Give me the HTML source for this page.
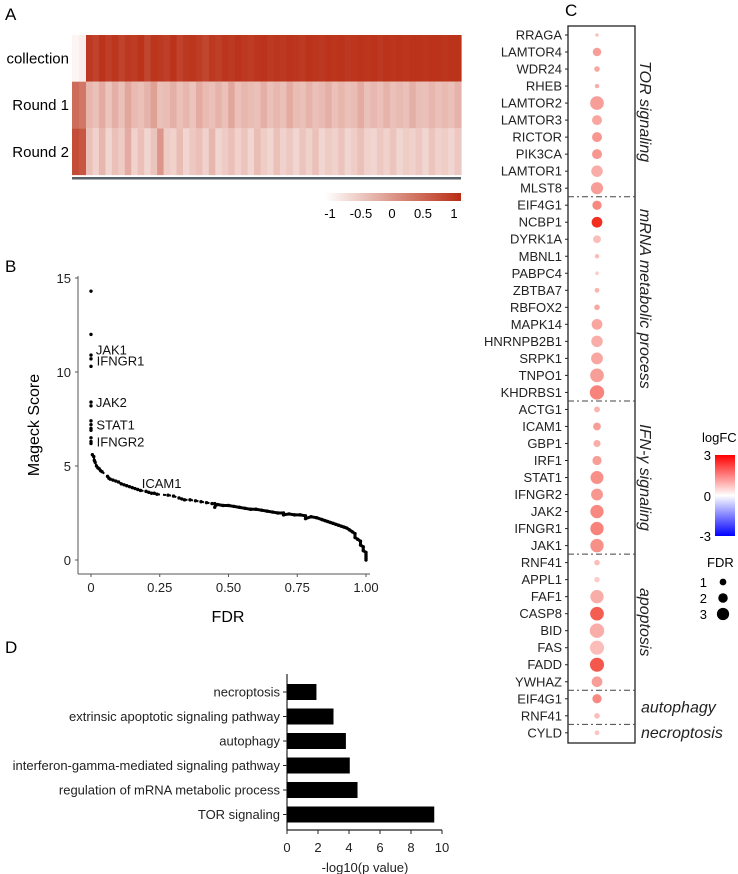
<!DOCTYPE html>
<html><head><meta charset="utf-8"><style>
html,body{margin:0;padding:0;background:#fff}
svg{display:block;font-family:"Liberation Sans",Arial,sans-serif}
</style></head><body>
<svg id="fig" width="738" height="874" viewBox="0 0 738 874" xmlns="http://www.w3.org/2000/svg">
<defs>
<linearGradient id="hmgrad" x1="0" x2="1" y1="0" y2="0"><stop offset="0" stop-color="#ffffff"/><stop offset="1" stop-color="#b92d14"/></linearGradient>
<linearGradient id="fcgrad" x1="0" x2="0" y1="0" y2="1"><stop offset="0" stop-color="#ff0000"/><stop offset="0.5" stop-color="#ffffff"/><stop offset="1" stop-color="#0000ff"/></linearGradient>
</defs>
<text x="5" y="20" font-size="17">A</text>
<text x="5" y="272" font-size="17">B</text>
<text x="565" y="16" font-size="17">C</text>
<text x="5" y="653" font-size="17">D</text>
<g id="pa"></g>
<g id="pb"></g>
<g id="pc"></g>
<g id="pd"></g>
</svg>
<script>
const NS="http://www.w3.org/2000/svg";
function mk(p,t,a,txt){const e=document.createElementNS(NS,t);for(const k in a)e.setAttribute(k,a[k]);if(txt!==undefined)e.textContent=txt;p.appendChild(e);return e;}

// ===== Panel A data =====
const hmRows=["collection","Round 1","Round 2"];
const hmCollection=[0.05,0.08,0.95,0.9,0.97,0.92,0.96,0.9,0.95,0.93,0.97,0.88,0.96,0.94,0.92,0.97,0.9,0.95,0.96,0.93,0.88,0.95,0.92,0.96,0.94,0.97,0.95,0.93,0.96,0.97,0.94,0.96,0.95,0.97,0.96,0.94,0.97,0.96,0.95,0.97,0.96,0.97,0.95,0.96,0.97,0.96,0.97,0.95,0.97,0.96,0.97,0.96,0.97,0.97,0.96,0.97,0.97,0.96,0.97,0.97];
const hmRound1=[0.7,0.65,0.35,0.3,0.4,0.28,0.38,0.3,0.42,0.33,0.3,0.36,0.45,0.3,0.32,0.38,0.3,0.35,0.28,0.4,0.33,0.3,0.36,0.3,0.42,0.3,0.35,0.32,0.3,0.38,0.3,0.34,0.3,0.4,0.32,0.3,0.36,0.3,0.33,0.38,0.3,0.35,0.3,0.32,0.4,0.3,0.34,0.3,0.36,0.3,0.33,0.3,0.38,0.31,0.3,0.35,0.3,0.33,0.3,0.36];
const hmRound2=[0.85,0.8,0.3,0.22,0.35,0.2,0.3,0.25,0.4,0.22,0.3,0.2,0.28,0.5,0.25,0.22,0.32,0.2,0.26,0.3,0.22,0.35,0.2,0.25,0.3,0.22,0.28,0.2,0.32,0.24,0.2,0.3,0.22,0.26,0.2,0.28,0.22,0.3,0.2,0.25,0.22,0.28,0.2,0.24,0.3,0.22,0.2,0.26,0.22,0.28,0.2,0.24,0.22,0.26,0.2,0.28,0.22,0.24,0.2,0.26];
const hmTicks=["-1","-0.5","0","0.5","1"];

(function(){
 const g=document.getElementById('pa');
 const x0=72,x1=461,y0=35,rh=46.7;
 const data=[hmCollection,hmRound1,hmRound2];
 function col(v){const r=Math.round(255+(185-255)*v),gg=Math.round(255+(45-255)*v),b=Math.round(255+(20-255)*v);return `rgb(${r},${gg},${b})`;}
 const firstW=14;
 data.forEach((row,ri)=>{
  const n=row.length;
  const restW=(x1-x0-firstW)/(n-2);
  row.forEach((v,ci)=>{
   const x=ci<2?x0+ci*firstW/2:x0+firstW+(ci-2)*restW;
   const w=ci<2?firstW/2:restW;
   const r=mk(g,'rect',{x:x,y:y0+ri*rh,width:w+0.6,height:rh,fill:col(v)});
   
   
  });
  const t=mk(g,'text',{x:69,y:y0+ri*rh+rh/2+5,'font-size':15,'text-anchor':'end'},hmRows[ri]);
  
  
 });
 const d=mk(g,'rect',{x:x0,y:177,width:x1-x0,height:2.5,fill:'#55606a'});
 
 
 const cb=mk(g,'rect',{x:325,y:193,width:136,height:8,fill:'url(#hmgrad)'});
 
 
 hmTicks.forEach((s,i)=>{
  const t=mk(g,'text',{x:330+i*31,y:218,'font-size':13,'text-anchor':'middle'},s);
  
  
 });
})();

// ===== Panel B data =====
const fdrVals=[0,0,0,0,0,0,0,0,0,0,0,0,0,0,0.005,0.01,0.012,0.015,0.02,0.025,0.03,0.035,0.04,0.06,0.065,0.07,0.08,0.09,0.1,0.11,0.12,0.13,0.14,0.15,0.16,0.17,0.18,0.2,0.21,0.22,0.23,0.24,0.28,0.3,0.32,0.33,0.34,0.36,0.38,0.4,0.42,0.44,0.45,0.45,0.46,0.48,0.5,0.52,0.54,0.56,0.58,0.6,0.62,0.64,0.66,0.68,0.7,0.7,0.72,0.74,0.76,0.78,0.78,0.8,0.82,0.84,0.85,0.86,0.87,0.88,0.89,0.9,0.91,0.92,0.93,0.94,0.95,0.96,0.96,0.97,0.98,0.98,0.99,0.99,1.0,1.0,1.0,1.0,1.0];
const scoreVals=[14.3,12.0,10.9,10.7,10.3,8.4,8.2,7.4,7.2,7.0,6.9,6.5,6.3,6.2,5.6,5.5,5.3,5.2,5.0,4.9,4.85,4.75,4.7,4.45,4.35,4.3,4.25,4.2,4.15,4.05,4.0,3.95,3.9,3.85,3.8,3.75,3.7,3.65,3.6,3.55,3.55,3.5,3.45,3.4,3.3,3.25,3.2,3.2,3.15,3.1,3.05,3.0,3.0,2.8,2.95,2.9,2.9,2.85,2.8,2.75,2.7,2.7,2.65,2.6,2.55,2.5,2.5,2.4,2.45,2.4,2.4,2.35,2.2,2.3,2.25,2.15,2.1,2.05,2.0,1.95,1.9,1.85,1.8,1.75,1.7,1.6,1.5,1.4,1.2,1.1,1.0,0.8,0.7,0.5,0.4,0.3,0.2,0.1,0.0];
const bYTicks=[0,5,10,15];
const bXTicks=[0,0.25,0.5,0.75,1];
const bXTickLabels=["0","0.25","0.50","0.75","1.00"];
const bLabels=["JAK1","IFNGR1","JAK2","STAT1","IFNGR2","ICAM1"];
const bLabelFdr=[0.003,0.006,0.003,0.005,0.006,0.17];
const bLabelScore=[11.2,10.6,8.4,7.2,6.3,4.1];

(function(){
 const g=document.getElementById('pb');
 const sx=v=>91+v*275, sy=v=>560-v*18.8;
 mk(g,'line',{x1:78,y1:276,x2:78,y2:574,stroke:'#555','stroke-width':1});
 mk(g,'line',{x1:78,y1:574,x2:370,y2:574,stroke:'#555','stroke-width':1});
 bYTicks.forEach(v=>{
  mk(g,'line',{x1:75,y1:sy(v),x2:78,y2:sy(v),stroke:'#555'});
  const t=mk(g,'text',{x:71,y:sy(v)+5,'font-size':13,'text-anchor':'end',fill:'#222'},String(v));
  
  
 });
 bXTicks.forEach((v,i)=>{
  mk(g,'line',{x1:sx(v),y1:574,x2:sx(v),y2:577,stroke:'#555'});
  const t=mk(g,'text',{x:sx(v),y:592,'font-size':13,'text-anchor':'middle',fill:'#222'},bXTickLabels[i]);
  
  
 });
 const xt=mk(g,'text',{x:228,y:622,'font-size':16,'text-anchor':'middle'},'FDR');
 
 
 const yt=mk(g,'text',{x:0,y:0,'font-size':16,'text-anchor':'middle',transform:'translate(39,425) rotate(-90)'},'Mageck Score');
 
 
 fdrVals.forEach((f,i)=>{
  const c=mk(g,'circle',{cx:sx(f),cy:sy(scoreVals[i]),r:1.7,fill:'#000'});
  
  
 });
 for(let i=14;i<fdrVals.length-1;i++){
  mk(g,'line',{x1:sx(fdrVals[i]),y1:sy(scoreVals[i]),x2:sx(fdrVals[i+1]),y2:sy(scoreVals[i+1]),stroke:'#000','stroke-width':fdrVals[i]>0.45?3:2,'stroke-dasharray':fdrVals[i]>0.45?'none':'3 3'});
 }
 bLabels.forEach((s,i)=>{
  const t=mk(g,'text',{x:sx(bLabelFdr[i])+4,y:sy(bLabelScore[i])+5,'font-size':13,fill:'#111'},s);
  
  
 });
})();

// ===== Panel C data =====
const cGenes=["RRAGA","LAMTOR4","WDR24","RHEB","LAMTOR2","LAMTOR3","RICTOR","PIK3CA","LAMTOR1","MLST8","EIF4G1","NCBP1","DYRK1A","MBNL1","PABPC4","ZBTBA7","RBFOX2","MAPK14","HNRNPB2B1","SRPK1","TNPO1","KHDRBS1","ACTG1","ICAM1","GBP1","IRF1","STAT1","IFNGR2","JAK2","IFNGR1","JAK1","RNF41","APPL1","FAF1","CASP8","BID","FAS","FADD","YWHAZ","EIF4G1","RNF41","CYLD"];
const cFdr=[0.2,1.6,0.8,0.5,3.0,2.0,2.0,2.0,2.4,2.6,1.8,2.2,1.4,0.5,0.3,0.6,0.8,2.2,2.4,2.5,3.0,3.2,0.9,1.4,1.2,1.8,2.8,2.5,2.9,2.9,2.9,0.8,0.8,2.9,3.0,3.2,3.1,3.1,2.2,1.8,0.8,0.6];
const cLogFC=[0.6,1.0,0.9,0.8,1.0,0.9,1.1,1.1,0.8,1.0,1.3,2.8,0.6,0.6,0.4,0.7,0.9,0.9,0.8,0.9,1.0,1.4,0.7,1.0,0.8,1.0,1.2,1.1,1.3,1.4,1.2,0.6,0.4,0.8,2.0,0.8,0.6,2.1,1.0,1.3,0.6,0.5];
const cGroups=["TOR signaling","mRNA metabolic process","IFN-γ signaling","apoptosis","autophagy","necroptosis"];
const cGroupStart=[0,10,22,31,39,41];
const cGroupEnd=[9,21,30,38,40,41];
const fdrLegend=[1,2,3];

(function(){
 const g=document.getElementById('pc');
 const rowY=i=>35+i*17.02;
 const bx0=568,bx1=635,cx=597;
 const rad=f=>1.3+1.85*f;
 function fc(v){const t=Math.pow(Math.min(1,Math.max(0,v/3)),0.75);const r=Math.round(255+(240-255)*t),gg=Math.round(255+(35-255)*t),b=Math.round(255+(20-255)*t);return `rgb(${r},${gg},${b})`;}
 const box=mk(g,'rect',{x:bx0,y:26,width:bx1-bx0,height:717,fill:'none',stroke:'#222','stroke-width':1.3});
 
 
 cGenes.forEach((s,i)=>{
  const y=rowY(i);
  mk(g,'line',{x1:565,y1:y,x2:568,y2:y,stroke:'#222'});
  const t=mk(g,'text',{x:562,y:y+4.5,'font-size':13,'text-anchor':'end',fill:'#222'},s);
  
  
  const c=mk(g,'circle',{cx:cx,cy:y,r:rad(cFdr[i]),fill:fc(cLogFC[i])});
  
  
 });
 cGroups.forEach((s,gi)=>{
  const a=rowY(cGroupStart[gi]),b=rowY(cGroupEnd[gi]);
  if(gi>0){
   const yy=rowY(cGroupStart[gi])-8.5;
   const l=mk(g,'line',{x1:bx0,y1:yy,x2:bx1,y2:yy,stroke:'#444','stroke-width':1,'stroke-dasharray':'6 3 2 3'});
   
   
  }
  let t;
  if(gi<4){
   const my=(a+b)/2;
   t=mk(g,'text',{x:0,y:0,'font-size':16,'font-style':'italic','text-anchor':'middle',fill:'#222',transform:`translate(640,${my}) rotate(90)`},s);
  } else {
   t=mk(g,'text',{x:641,y:(a+b)/2+5,'font-size':16,'font-style':'italic',fill:'#222'},s);
  }
  
  
 });
 const lt=mk(g,'text',{x:702,y:442,'font-size':13},'logFC');
 
 
 const cb=mk(g,'rect',{x:715,y:455,width:20,height:81,fill:'url(#fcgrad)'});
 
 
 [["3",460],["0",501],["-3",541]].forEach(p=>{const t=mk(g,'text',{x:711,y:p[1],'font-size':13,'text-anchor':'end'},p[0]);});
 const ft=mk(g,'text',{x:707,y:567,'font-size':13},'FDR');
 
 
 fdrLegend.forEach((v,i)=>{
  const y=582+i*16;
  const t=mk(g,'text',{x:707,y:y+5,'font-size':13,'text-anchor':'end'},String(v));
  
  
  const c=mk(g,'circle',{cx:723,cy:y,r:rad(v)*0.75+1,fill:'#000'});
  
  
 });
})();

// ===== Panel D data =====
const dTerms=["necroptosis","extrinsic apoptotic signaling pathway","autophagy","interferon-gamma-mediated signaling pathway","regulation of mRNA metabolic process","TOR signaling"];
const dValues=[1.9,3.0,3.8,4.05,4.55,9.5];
const dTicks=[0,2,4,6,8,10];

(function(){
 const g=document.getElementById('pd');
 const sx=v=>287+v*15.5;
 const yc=i=>692+i*24.5;
 mk(g,'line',{x1:287,y1:674,x2:287,y2:830,stroke:'#222','stroke-width':1.2});
 mk(g,'line',{x1:287,y1:830,x2:442,y2:830,stroke:'#222','stroke-width':1.2});
 dTerms.forEach((s,i)=>{
  const b=mk(g,'rect',{x:287,y:yc(i)-8,width:sx(dValues[i])-287,height:16,fill:'#000'});
  
  
  mk(g,'line',{x1:283,y1:yc(i),x2:287,y2:yc(i),stroke:'#222'});
  const t=mk(g,'text',{x:280,y:yc(i)+4.5,'font-size':13,'text-anchor':'end',fill:'#222'},s);
  
  
 });
 dTicks.forEach(v=>{
  mk(g,'line',{x1:sx(v),y1:830,x2:sx(v),y2:834,stroke:'#222'});
  const t=mk(g,'text',{x:sx(v),y:852,'font-size':13,'text-anchor':'middle',fill:'#222'},String(v));
  
  
 });
 const xt=mk(g,'text',{x:365,y:872,'font-size':13,'text-anchor':'middle',fill:'#222'},'-log10(p value)');
 
 
})();
</script>
</body></html>
